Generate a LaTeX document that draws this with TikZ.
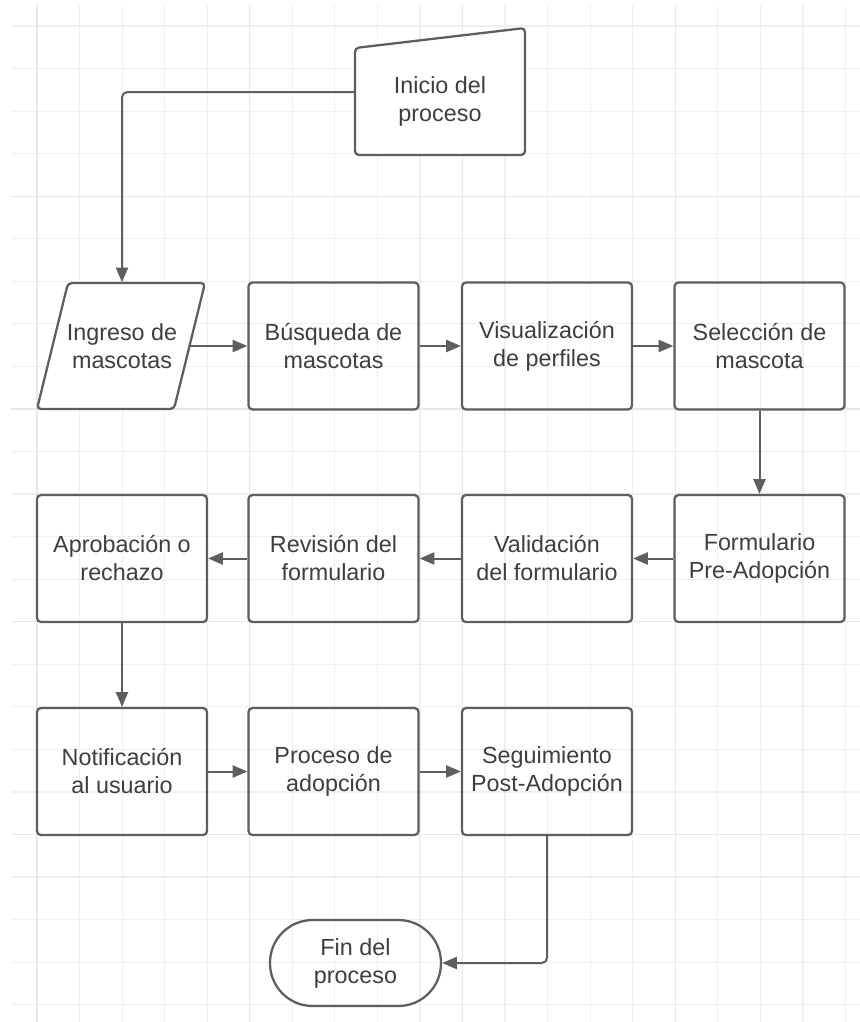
\documentclass[tikz,border=0pt]{standalone}
\usepackage{fontspec}
\setmainfont{Liberation Sans}
\usetikzlibrary{arrows.meta}
\definecolor{gridc}{HTML}{EFEFEF}
\definecolor{gridm}{HTML}{E8E8E8}
\definecolor{strokec}{HTML}{5E5E5E}
\definecolor{textc}{HTML}{3E3E3E}
\begin{document}
\begin{tikzpicture}[x=0.75pt,y=-0.75pt,
  txt/.style={text=textc, align=center, font=\fontsize{17.5}{21}\selectfont},
  box/.style={txt, draw=strokec, line width=1.7pt, rounded corners=3pt,
    minimum width=127.5pt, minimum height=95.25pt, inner sep=0pt},
  lbl/.style={txt, draw=none, minimum width=127.5pt, minimum height=95.25pt, inner sep=0pt},
  outline/.style={draw=strokec, line width=1.7pt, rounded corners=3pt, fill=white},
  conn/.style={draw=strokec, line width=1.5pt, -{Triangle[length=11pt,width=9pt]}},
  gline/.style={draw=gridc, line width=0.9pt},
  gmajor/.style={draw=gridm, line width=0.9pt}
]
\fill[white] (0,0) rectangle (860,1022);
\useasboundingbox (0,0) rectangle (860,1022);
% grid
\foreach \i in {0,...,19} {
  \draw[gline] ({37+42.55*\i},5) -- ({37+42.55*\i},1022);
}
\foreach \j in {0,...,23} {
  \draw[gline] (11,{26+42.55*\j}) -- (860,{26+42.55*\j});
}
\foreach \i in {0,5,10,15} {
  \draw[gmajor] ({37+42.55*\i},5) -- ({37+42.55*\i},1022);
}
\foreach \j in {4,9,14,19} {
  \draw[gmajor] (11,{26+42.55*\j}) -- (860,{26+42.55*\j});
}

% start: manual input shape
\draw[outline] (355,155) -- (355,48) -- (525,28) -- (525,155) -- cycle;
\node[txt] (inicio) at (440,101) {Inicio del\\proceso};
\coordinate (inicioW) at (355,92);

% input parallelogram
\draw[outline] (37,409) -- (68,283) -- (205,283) -- (174,409) -- cycle;
\node[lbl] (ingreso) at (122,346) {Ingreso de\\mascotas};
\coordinate (ingresoE) at (189.5,346);

% row 1
\node[box] (busq) at (333.5,346) {Búsqueda de\\mascotas};
\node[box] (visu) at (547,346) {Visualización\\de perfiles};
\node[box] (sele) at (759.5,346) {Selección de\\mascota};

% row 2
\node[box] (form) at (759.5,558.5) {Formulario\\Pre-Adopción};
\node[box] (vali) at (547,558.5) {Validación\\del formulario};
\node[box] (revi) at (333.5,558.5) {Revisión del\\formulario};
\node[box] (apro) at (122,558.5) {Aprobación o\\rechazo};

% row 3
\node[box] (noti) at (122,771.5) {Notificación\\al usuario};
\node[box] (proc) at (333.5,771.5) {Proceso de\\adopción};
\node[box] (segu) at (547,771.5) {Seguimiento\\Post-Adopción};

% end terminal
\node[txt, draw=strokec, line width=1.7pt, rounded corners=32pt,
  minimum width=128.25pt, minimum height=64.5pt, inner sep=0pt] (fin) at (355.5,963) {Fin del\\proceso};

% connectors
\draw[conn, rounded corners=4pt] (inicioW) -| (ingreso.north);
\draw[conn] (ingresoE) -- (busq.west);
\draw[conn] (busq.east) -- (visu.west);
\draw[conn] (visu.east) -- (sele.west);
\draw[conn] (sele.south) -- (form.north);
\draw[conn] (form.west) -- (vali.east);
\draw[conn] (vali.west) -- (revi.east);
\draw[conn] (revi.west) -- (apro.east);
\draw[conn] (apro.south) -- (noti.north);
\draw[conn] (noti.east) -- (proc.west);
\draw[conn] (proc.east) -- (segu.west);
\draw[conn, rounded corners=4pt] (segu.south) |- (fin.east);
\end{tikzpicture}
\end{document}
